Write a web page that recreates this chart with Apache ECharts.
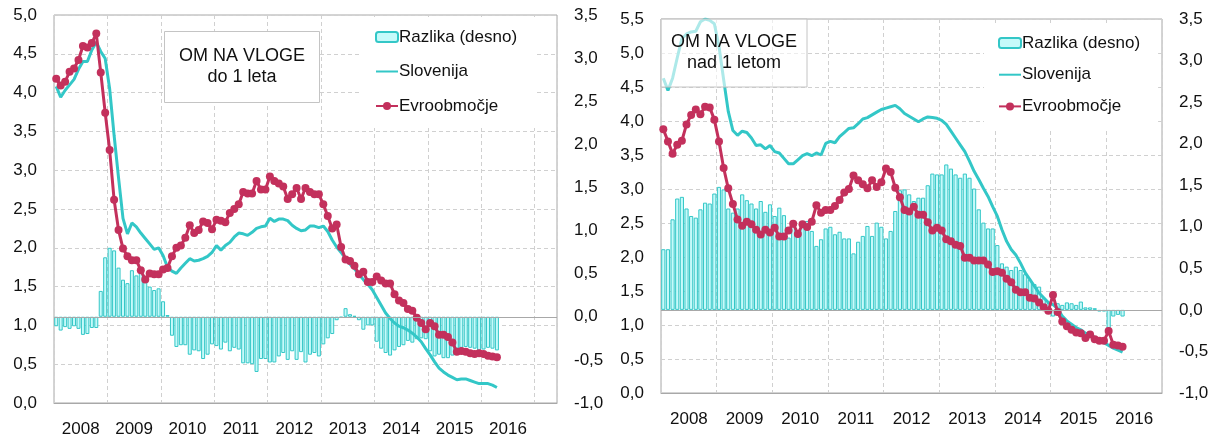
<!DOCTYPE html>
<html lang="sl">
<head>
<meta charset="UTF-8">
<title>OM na vloge</title>
<script src="https://cdn.jsdelivr.net/npm/echarts@6/dist/echarts.min.js"></script>
<style>
  html, body { margin: 0; padding: 0; background: #fff; }
  #chart { width: 1221px; height: 441px; }
</style>
</head>
<body>
<div id="chart"></div>
<script>
// years shown on the x axis, data is monthly from 2008-01
const years = ['2008', '2009', '2010', '2011', '2012', '2013', '2014', '2015', '2016'];

// left panel: deposits up to 1 year (left axis %, bars on right axis)
const leftSlo = [4.08, 3.94, 4.03, 4.10, 4.17, 4.30, 4.40, 4.40, 4.55, 4.65,
  4.53, 4.44, 4.05, 3.45, 2.90, 2.38, 2.18, 2.32, 2.27, 2.19,
  2.12, 2.05, 1.98, 2.00, 1.90, 1.75, 1.70, 1.67, 1.74, 1.80,
  1.86, 1.83, 1.84, 1.86, 1.89, 1.94, 2.03, 1.97, 2.03, 2.07,
  2.14, 2.19, 2.18, 2.16, 2.20, 2.25, 2.27, 2.28, 2.38, 2.34,
  2.37, 2.37, 2.35, 2.29, 2.25, 2.22, 2.23, 2.28, 2.28, 2.26,
  2.28, 2.21, 2.10, 2.01, 1.94, 1.86, 1.79, 1.73, 1.66, 1.59,
  1.53, 1.46, 1.36, 1.26, 1.16, 1.09, 1.03, 0.99, 0.97, 0.94,
  0.90, 0.85, 0.79, 0.70, 0.62, 0.53, 0.45, 0.40, 0.36, 0.33,
  0.30, 0.31, 0.31, 0.29, 0.27, 0.25, 0.25, 0.25, 0.23, 0.20];
const leftEvro = [4.18, 4.09, 4.14, 4.27, 4.31, 4.42, 4.60, 4.58, 4.64, 4.76,
  4.26, 3.74, 3.26, 2.62, 2.23, 1.99, 1.89, 1.84, 1.84, 1.71,
  1.59, 1.67, 1.66, 1.66, 1.72, 1.74, 1.89, 2.00, 2.03, 2.13,
  2.29, 2.19, 2.23, 2.34, 2.32, 2.24, 2.36, 2.35, 2.33, 2.45,
  2.50, 2.56, 2.72, 2.70, 2.70, 2.86, 2.75, 2.75, 2.92, 2.86,
  2.83, 2.79, 2.63, 2.69, 2.77, 2.63, 2.77, 2.72, 2.69, 2.69,
  2.56, 2.41, 2.25, 2.30, 2.01, 1.85, 1.83, 1.77, 1.66, 1.69,
  1.56, 1.56, 1.63, 1.58, 1.54, 1.54, 1.40, 1.32, 1.29, 1.21,
  1.19, 1.10, 1.03, 0.95, 1.03, 0.99, 0.88, 0.88, 0.85, 0.78,
  0.66, 0.67, 0.66, 0.64, 0.63, 0.64, 0.63, 0.61, 0.60, 0.59];
const leftRaz = [-0.11, -0.16, -0.12, -0.14, -0.11, -0.14, -0.21, -0.20, -0.13, -0.13,
  0.30, 0.69, 0.80, 0.77, 0.57, 0.43, 0.39, 0.54, 0.48, 0.53,
  0.45, 0.35, 0.31, 0.33, 0.18, 0.02, -0.22, -0.35, -0.33, -0.33,
  -0.44, -0.39, -0.40, -0.49, -0.44, -0.32, -0.34, -0.38, -0.30, -0.40,
  -0.36, -0.38, -0.54, -0.54, -0.55, -0.64, -0.49, -0.49, -0.53, -0.53,
  -0.46, -0.42, -0.50, -0.40, -0.50, -0.41, -0.53, -0.44, -0.42, -0.46,
  -0.32, -0.25, -0.20, -0.04, -0.01, 0.10, 0.03, 0.01, -0.04, -0.15,
  -0.10, -0.10, -0.29, -0.37, -0.42, -0.45, -0.39, -0.35, -0.33, -0.28,
  -0.30, -0.26, -0.25, -0.26, -0.40, -0.46, -0.44, -0.48, -0.48, -0.45,
  -0.37, -0.36, -0.35, -0.36, -0.37, -0.39, -0.38, -0.36, -0.37, -0.39];

// right panel: deposits over 1 year
const rightSlo = [4.63, 4.45, 4.63, 4.93, 5.21, 5.28, 5.31, 5.32, 5.46, 5.50,
  5.48, 5.43, 5.10, 4.61, 4.14, 3.86, 3.79, 3.85, 3.83, 3.75,
  3.64, 3.65, 3.59, 3.64, 3.55, 3.53, 3.45, 3.37, 3.37, 3.43,
  3.49, 3.52, 3.49, 3.53, 3.50, 3.67, 3.70, 3.68, 3.77, 3.83,
  3.89, 3.90, 3.96, 4.03, 4.05, 4.09, 4.13, 4.17, 4.19, 4.21,
  4.23, 4.18, 4.11, 4.07, 4.03, 3.99, 4.03, 4.06, 4.05, 4.04,
  4.01, 3.95, 3.85, 3.75, 3.65, 3.55, 3.41, 3.26, 3.14, 3.01,
  2.89, 2.74, 2.60, 2.40, 2.23, 2.11, 2.03, 1.91, 1.77, 1.67,
  1.57, 1.47, 1.40, 1.33, 1.30, 1.24, 1.13, 1.06, 1.01, 0.96,
  0.93, 0.88, 0.86, 0.82, 0.78, 0.74, 0.70, 0.66, 0.63, 0.60];
const rightEvro = [3.88, 3.70, 3.52, 3.65, 3.71, 3.95, 4.09, 4.17, 4.10, 4.21,
  4.20, 4.02, 3.70, 3.31, 3.01, 2.78, 2.55, 2.46, 2.52, 2.48,
  2.40, 2.33, 2.40, 2.36, 2.43, 2.30, 2.30, 2.39, 2.49, 2.34,
  2.48, 2.44, 2.52, 2.76, 2.65, 2.69, 2.69, 2.75, 2.84, 2.95,
  3.00, 3.20, 3.13, 3.07, 3.01, 3.13, 3.03, 3.10, 3.30, 3.25,
  3.02, 2.88, 2.69, 2.67, 2.74, 2.62, 2.62, 2.51, 2.39, 2.43,
  2.39, 2.26, 2.23, 2.18, 2.16, 1.99, 1.99, 1.95, 1.95, 1.95,
  1.89, 1.78, 1.79, 1.77, 1.68, 1.63, 1.52, 1.48, 1.48, 1.40,
  1.39, 1.33, 1.26, 1.21, 1.44, 1.19, 1.05, 0.98, 0.93, 0.89,
  0.88, 0.81, 0.86, 0.79, 0.77, 0.77, 0.91, 0.71, 0.70, 0.68];
const rightRaz = [0.73, 0.73, 1.09, 1.34, 1.36, 1.22, 1.13, 1.11, 1.21, 1.29,
  1.28, 1.40, 1.48, 1.45, 1.22, 1.17, 1.22, 1.39, 1.32, 1.28,
  1.22, 1.31, 1.18, 1.27, 1.13, 1.23, 1.14, 0.87, 1.06, 0.88,
  1.07, 1.07, 0.95, 0.77, 0.85, 0.98, 1.00, 0.91, 0.94, 0.86,
  0.86, 0.68, 0.82, 0.89, 1.01, 0.89, 1.05, 1.00, 0.86, 0.95,
  1.19, 1.44, 1.45, 1.39, 1.31, 1.35, 1.35, 1.50, 1.64, 1.63,
  1.63, 1.75, 1.70, 1.63, 1.59, 1.64, 1.59, 1.46, 1.21, 1.05,
  0.98, 0.98, 0.78, 0.56, 0.52, 0.48, 0.52, 0.48, 0.43, 0.36,
  0.31, 0.28, 0.14, 0.08, -0.08, 0.08, 0.06, 0.09, 0.08, 0.06,
  0.10, 0.03, 0.03, 0.02, -0.02, -0.02, -0.22, -0.08, -0.06, -0.08];

const leftTicks = { min: 0, max: 5, interval: 0.5 };
const rightTicks = { min: 0, max: 5.5, interval: 0.5 };
const razTicks = { min: -1, max: 3.5, interval: 0.5 };

const names = ['Razlika (desno)', 'Slovenija', 'Evroobmočje'];
const titles = [['OM NA VLOGE', 'do 1 leta'], ['OM NA VLOGE', 'nad 1 letom']];

const CYAN = '#33c7c7';
const RED = '#c3305c';
const FONT = 'Liberation Sans, Arial, sans-serif';

function monthCats(n) {
  let out = [];
  for (let i = 0; i < n; i++) {
    let y = 2008 + Math.floor(i / 12);
    let m = (i % 12) + 1;
    out.push(y + '-' + (m < 10 ? '0' + m : m));
  }
  return out;
}

function fmt(v) {
  return v.toFixed(1).replace('.', ',');
}

function xAxisFor(gridIndex, cats) {
  return {
    type: 'category',
    gridIndex: gridIndex,
    data: cats,
    boundaryGap: true,
    axisLine: { lineStyle: { color: '#a8a8a8' } },
    axisTick: { show: false },
    axisLabel: {
      interval: (i) => i % 12 === 6,
      formatter: (v) => v.slice(0, 4),
      margin: 18,
      fontSize: 17,
      color: '#111',
      padding: [0, 4.5, 0, 0]
    },
    splitLine: {
      show: true,
      interval: (i) => i % 12 === 0,
      lineStyle: { color: '#d0d0d0', type: [4, 3] }
    }
  };
}

function yAxisFor(gridIndex, ticks, pos, grid) {
  return {
    type: 'value',
    gridIndex: gridIndex,
    position: pos,
    min: ticks.min,
    max: ticks.max,
    interval: ticks.interval,
    axisLine: { show: false },
    axisTick: { show: false },
    axisLabel: { formatter: fmt, fontSize: 17, color: '#111', margin: 17 },
    splitLine: { show: grid, lineStyle: { color: '#d0d0d0', type: [4, 3] } }
  };
}

function seriesFor(xi, yLeft, yRight, slo, evro, raz) {
  return [{
    name: names[0],
    type: 'bar',
    xAxisIndex: xi,
    yAxisIndex: yRight,
    data: raz,
    barCategoryGap: '10%',
    itemStyle: { color: '#c6fafa', borderColor: CYAN, borderWidth: 1 },
    markLine: {
      silent: true,
      symbol: 'none',
      label: { show: false },
      lineStyle: { color: '#a8a8a8', type: 'solid', width: 1 },
      data: [{ yAxis: 0 }]
    }
  }, {
    name: names[1],
    type: 'line',
    xAxisIndex: xi,
    yAxisIndex: yLeft,
    data: slo,
    symbol: 'none',
    lineStyle: { color: CYAN, width: 3 },
    itemStyle: { color: CYAN }
  }, {
    name: names[2],
    type: 'line',
    xAxisIndex: xi,
    yAxisIndex: yLeft,
    data: evro,
    symbol: 'circle',
    symbolSize: 8,
    showAllSymbol: true,
    lineStyle: { color: RED, width: 3 },
    itemStyle: { color: RED }
  }];
}

function titleBox(x, y, w, h, lines, fill) {
  return {
    type: 'group',
    z: 100,
    children: [{
      type: 'rect',
      z: 100,
      shape: { x: x, y: y, width: w, height: h },
      style: { fill: fill, stroke: '#c4c4c4', lineWidth: 1 }
    }, {
      type: 'text',
      z: 101,
      style: {
        x: x + w / 2, y: y + h / 2,
        text: lines.join('\n'),
        font: '18px ' + FONT,
        lineHeight: 21,
        fill: '#111',
        align: 'center',
        verticalAlign: 'middle'
      }
    }]
  };
}

function legendFor(left, top, gap) {
  return {
    data: [
      { name: names[0] },
      { name: names[1], itemStyle: { opacity: 0 } },
      { name: names[2] }
    ],
    orient: 'vertical',
    left: left,
    top: top,
    itemGap: gap,
    itemWidth: 22,
    itemHeight: 10,
    padding: [10, 18, 12, 14],
    backgroundColor: '#fff',
    textStyle: { fontSize: 17, color: '#111', lineHeight: 20, padding: [0, 0, 0, -4] }
  };
}

const chart = echarts.init(document.getElementById('chart'));
const option = {
  animation: false,
  backgroundColor: '#fff',
  textStyle: { fontFamily: FONT },
  grid: [
    { left: 54, top: 15, width: 503, height: 388, show: true, borderColor: '#a8a8a8', borderWidth: 1 },
    { left: 661, top: 19, width: 501, height: 374, show: true, borderColor: '#a8a8a8', borderWidth: 1 }
  ],
  xAxis: [xAxisFor(0, monthCats(113)), xAxisFor(1, monthCats(years.length * 12))],
  yAxis: [
    yAxisFor(0, leftTicks, 'left', true),
    yAxisFor(0, razTicks, 'right', false),
    yAxisFor(1, rightTicks, 'left', true),
    yAxisFor(1, razTicks, 'right', false)
  ],
  legend: [legendFor(361, 17, 14.5), legendFor(984, 23, 11.7)],
  series: seriesFor(0, 0, 1, leftSlo, leftEvro, leftRaz)
    .concat(seriesFor(1, 2, 3, rightSlo, rightEvro, rightRaz)),
  graphic: [
    titleBox(164.5, 31.5, 155, 71, titles[0], '#fff'),
    titleBox(661, 19, 146, 68, titles[1], 'rgba(255,255,255,0.6)')
  ]
};
chart.setOption(option);
</script>
</body>
</html>
